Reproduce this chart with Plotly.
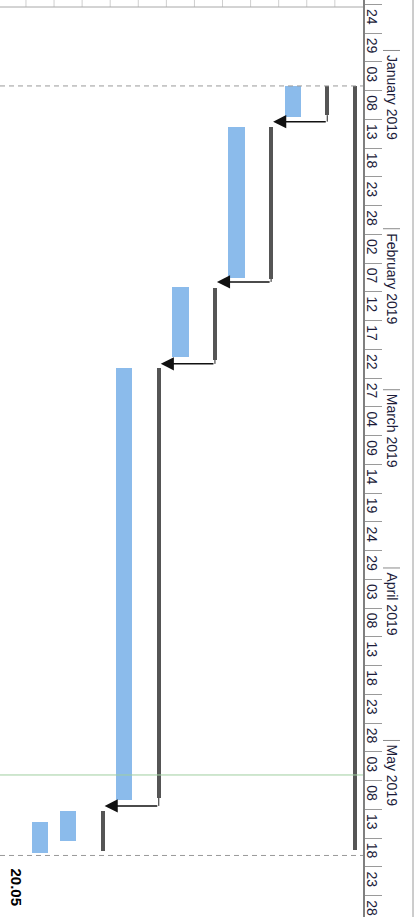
import pandas as pd
import plotly.graph_objects as go

# ---------------- data ----------------
tick_dates = ['2018-12-24', '2018-12-29', '2019-01-03', '2019-01-08', '2019-01-13', '2019-01-18',
              '2019-01-23', '2019-01-28', '2019-02-02', '2019-02-07', '2019-02-12', '2019-02-17',
              '2019-02-22', '2019-02-27', '2019-03-04', '2019-03-09', '2019-03-14', '2019-03-19',
              '2019-03-24', '2019-03-29', '2019-04-03', '2019-04-08', '2019-04-13', '2019-04-18',
              '2019-04-23', '2019-04-28', '2019-05-03', '2019-05-08', '2019-05-13', '2019-05-18',
              '2019-05-23', '2019-05-28']
tick_labels = ['24', '29', '03', '08', '13', '18', '23', '28', '02', '07', '12', '17', '22', '27',
               '04', '09', '14', '19', '24', '29', '03', '08', '13', '18', '23', '28', '03', '08',
               '13', '18', '23', '28']

month_starts = ['2019-01-01', '2019-02-01', '2019-03-01', '2019-04-01', '2019-05-01']
month_labels = ['January 2019', 'February 2019', 'March 2019', 'April 2019', 'May 2019']

# dark (summary / baseline) bars
dark_rows = [11, 10, 8, 6, 4, 2]
dark_start = ['2019-01-07 06:00', '2019-01-07 06:00', '2019-01-14 07:00', '2019-02-11 07:00',
              '2019-02-25 05:00', '2019-05-13 06:00']
dark_end = ['2019-05-20 00:00', '2019-01-12 06:00', '2019-02-09 18:00', '2019-02-23 20:00',
            '2019-05-11 00:00', '2019-05-20 05:00']

# blue task bars
blue_rows = [9, 7, 5, 3, 1, 0]
blue_start = ['2019-01-07 06:00', '2019-01-14 07:00', '2019-02-11 02:00', '2019-02-25 05:00',
              '2019-05-13 06:00', '2019-05-15 04:00']
blue_end = ['2019-01-12 14:00', '2019-02-09 14:00', '2019-02-23 07:00', '2019-05-11 08:00',
            '2019-05-18 11:00', '2019-05-20 14:00']

# dependency links (from dark bar index -> next dark bar index)
link_from = [1, 2, 3, 4]
link_to = [2, 3, 4, 5]
link_dates = ['2019-01-13 09:00', '2019-02-10 06:00', '2019-02-24 12:00', '2019-05-12 09:00']

project_start = '2019-01-07 04:00'
deadline = '2019-05-21 00:00'
deadline_label = '20.05'
today = '2019-05-07 00:00'

y_range = ['2019-05-31 16:50', '2018-12-23 05:17']

# ---------------- styling ----------------
BLUE = '#8bbbeb'
DARK = '#555555'
TXT = '#1c1c3a'
FONT = 'Liberation Sans, Arial, sans-serif'
W, H = 419, 917
PLOT_W = 363
DARK_OFF = 0.23


def dur_ms(starts, ends):
    return [(pd.Timestamp(e) - pd.Timestamp(s)).total_seconds() * 1000 for s, e in zip(starts, ends)]


fig = go.Figure()

fig.add_trace(go.Bar(
    x=[r for r in blue_rows], y=dur_ms(blue_start, blue_end), base=blue_start,
    width=0.58, marker=dict(color=BLUE, line=dict(width=0)), hoverinfo='skip',
    showlegend=False))

fig.add_trace(go.Bar(
    x=[r + DARK_OFF for r in dark_rows], y=dur_ms(dark_start, dark_end), base=dark_start,
    width=0.15, marker=dict(color=DARK, line=dict(width=0)), hoverinfo='skip',
    showlegend=False))

# dummy trace to register the label axis
fig.add_trace(go.Scatter(x=[], y=[], yaxis='y2', showlegend=False, hoverinfo='skip'))

shapes = []
annotations = []

# header grid at top
for k in range(12):
    shapes.append(dict(type='line', xref='x', yref='paper', x0=k - 0.5, x1=k - 0.5,
                       y0=1, y1=1 - 7 / H, line=dict(color='#cfcfcf', width=1)))
shapes.append(dict(type='line', xref='paper', yref='paper', x0=0, x1=1,
                   y0=1 - 7 / H, y1=1 - 7 / H, line=dict(color='#a8a8a8', width=1)))

# dashed project lines
for d in [project_start, deadline]:
    shapes.append(dict(type='line', xref='paper', yref='y', x0=0, x1=1, y0=d, y1=d,
                       line=dict(color='#9a9a9a', width=1, dash='5px,4px')))
# today line
shapes.append(dict(type='line', xref='paper', yref='y', x0=0, x1=1, y0=today, y1=today,
                   line=dict(color='#9fcf9f', width=1)))

# link hooks + arrows
for f, t, d in zip(link_from, link_to, link_dates):
    xf = dark_rows[f] + DARK_OFF
    xt = dark_rows[t] + DARK_OFF
    shapes.append(dict(type='line', xref='x', yref='y', x0=xf, x1=xf, y0=dark_end[f], y1=d,
                       line=dict(color='#222222', width=1)))
    annotations.append(dict(x=xt, y=d, ax=xf, ay=d, xref='x', yref='y', axref='x', ayref='y',
                            text='', showarrow=True, arrowhead=2, arrowsize=1.75,
                            arrowwidth=1.5, arrowcolor='#111111', standoff=2))

# month ticks and labels
for m, lab in zip(month_starts, month_labels):
    shapes.append(dict(type='line', xref='paper', yref='y', x0=383 / PLOT_W, x1=400 / PLOT_W,
                       y0=m, y1=m, line=dict(color='#8a8a8a', width=1)))
    annotations.append(dict(xref='paper', yref='y', x=382 / PLOT_W, y=m, xanchor='left',
                            yanchor='top', text=lab, textangle=90, showarrow=False,
                            font=dict(size=14, color=TXT, family=FONT), yshift=-2))

# right border line
shapes.append(dict(type='line', xref='paper', yref='paper', x0=413 / PLOT_W, x1=413 / PLOT_W,
                   y0=0, y1=1, line=dict(color='#9a9a9a', width=1)))

# deadline label
annotations.append(dict(xref='paper', yref='y', x=17 / PLOT_W, y=deadline, xanchor='center',
                        yanchor='top', yshift=-11, text='<b>' + deadline_label + '</b>',
                        textangle=90, showarrow=False,
                        font=dict(size=15, color='#000000', family=FONT)))

label_pos = [pd.Timestamp(d) + pd.Timedelta(hours=60) for d in tick_dates]

fig.update_layout(
    width=W, height=H,
    margin=dict(l=0, r=W - PLOT_W, t=0, b=0),
    paper_bgcolor='white', plot_bgcolor='white',
    barmode='overlay', bargap=0,
    showlegend=False,
    xaxis=dict(range=[-1.4245, 11.503], visible=False, fixedrange=True),
    yaxis=dict(type='date', range=y_range, autorange=False, side='right',
               tickmode='array', tickvals=tick_dates, showticklabels=False,
               ticks='outside', ticklen=17, tickcolor='#9a9a9a', tickwidth=1,
               showgrid=False, zeroline=False, showline=True, linecolor='#808080',
               linewidth=1.5),
    yaxis2=dict(type='date', range=y_range, autorange=False, side='right', overlaying='y',
                anchor='x', tickmode='array', tickvals=label_pos, ticktext=tick_labels,
                ticks='', tickangle=90, showgrid=False, zeroline=False, showline=False,
                tickfont=dict(size=14, color=TXT, family=FONT)),
    annotations=annotations,
    shapes=shapes,
)

fig.write_html('out.html')
